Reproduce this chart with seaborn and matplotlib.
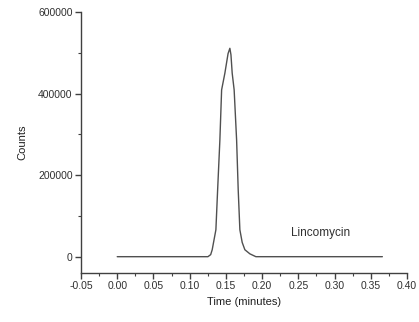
import matplotlib
matplotlib.use("Agg")
import matplotlib.pyplot as plt
import seaborn as sns
import pandas as pd
from matplotlib.ticker import MultipleLocator

time_min = [0.000, 0.100, 0.1252, 0.1290, 0.1311, 0.1362, 0.1386, 0.1417, 0.1441, 0.1486,
            0.1530, 0.1555, 0.1570, 0.1587, 0.1614, 0.1648, 0.1670, 0.1693, 0.1725, 0.1762,
            0.1831, 0.1914, 0.300, 0.366]
counts = [0, 0, 0, 5000, 17000, 66000, 164000, 286000, 409000, 450000,
          498000, 511000, 495000, 450000, 409000, 286000, 164000, 66000, 35000, 17000,
          7000, 0, 0, 0]
label_text = "Lincomycin"

df = pd.DataFrame({"t": time_min, "c": counts})

sns.set_theme(style="white")
plt.rcParams["font.family"] = ["Liberation Sans", "DejaVu Sans"]

fig = plt.figure(figsize=(4.19, 3.22), dpi=100)
ax = fig.add_axes([81/419, 1 - 273/322, (407-81)/419, (273-12)/322])
sns.lineplot(data=df, x="t", y="c", ax=ax, color="#505050", linewidth=1.0)

ax.set_xlim(-0.05, 0.40)
ax.set_ylim(-40000, 600000)
ax.xaxis.set_minor_locator(MultipleLocator(0.025))
ax.yaxis.set_minor_locator(MultipleLocator(100000))
ax.set_xticks([-0.05, 0.0, 0.05, 0.10, 0.15, 0.20, 0.25, 0.30, 0.35, 0.40])
ax.set_xticklabels(["-0.05", "0.00", "0.05", "0.10", "0.15", "0.20", "0.25", "0.30", "0.35", "0.40"])
ax.set_yticks([0, 200000, 400000, 600000])
ax.set_yticklabels(["0", "200000", "400000", "600000"])

for s in ["top", "right"]:
    ax.spines[s].set_visible(False)
for s in ["left", "bottom"]:
    ax.spines[s].set_color("#404040")
    ax.spines[s].set_linewidth(1.0)

ax.tick_params(which="major", direction="out", length=4, width=1, color="#404040",
               labelsize=7.5, labelcolor="#303030", pad=2, bottom=True, left=True)
ax.tick_params(which="minor", direction="out", length=2.5, width=0.8, color="#404040",
               bottom=True, left=True)

ax.set_xlabel("Time (minutes)", fontsize=8, color="#202020", labelpad=4)
ax.set_ylabel("Counts", fontsize=8, color="#202020", labelpad=8)
ax.text(0.28, 59000, label_text, fontsize=8.5, color="#303030", ha="center", va="center")

fig.savefig("out.png", dpi=100)
